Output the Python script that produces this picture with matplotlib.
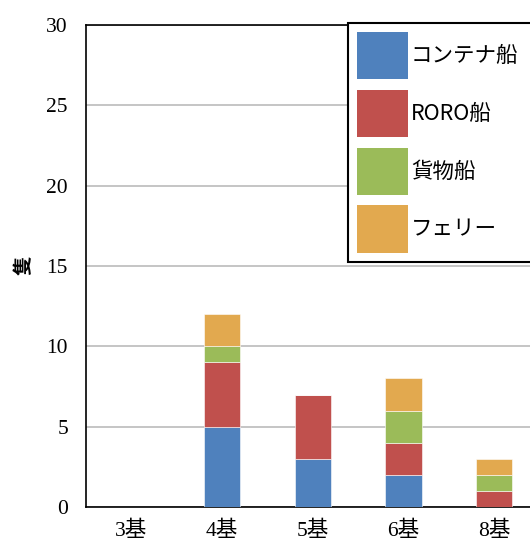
import matplotlib.pyplot as plt
import numpy as np

categories = ["3基", "4基", "5基", "6基", "8基"]
series_names = ["コンテナ船", "RORO船", "貨物船", "フェリー"]
container = [0, 5, 3, 2, 0]
roro = [0, 4, 4, 2, 1]
cargo = [0, 1, 0, 2, 1]
ferry = [0, 2, 0, 2, 1]
colors = ["#4f81bd", "#c0504d", "#9bbb59", "#e2a94f"]

tick_font = ["Liberation Serif", "Noto Sans CJK JP"]
plt.rcParams['font.family'] = ['Noto Sans CJK JP', 'DejaVu Sans']

fig = plt.figure(figsize=(5.3, 5.43), dpi=100)
ax = fig.add_axes([86 / 530, 36 / 543, 453.5 / 530, 482 / 543])

x = np.arange(len(categories))
bottom = np.zeros(len(categories))
for name, vals, c in zip(series_names, [container, roro, cargo, ferry], colors):
    ax.bar(x, vals, 0.4, bottom=bottom, color=c, label=name,
           edgecolor="white", linewidth=0.4, zorder=3)
    bottom += np.array(vals)

ax.set_xlim(-0.5, len(categories) - 0.5)
ax.set_ylim(0, 30)
ax.set_yticks(range(0, 31, 5))
ax.set_xticks(x)
ax.set_xticklabels(categories, family=tick_font, fontsize=15.5)
for lbl in ax.get_yticklabels():
    lbl.set_family(tick_font)
    lbl.set_fontsize(15.5)
ax.tick_params(axis='y', length=0, pad=13)
ax.tick_params(axis='x', length=0, pad=10)
ax.yaxis.grid(True, color="#c0c0c0", linewidth=1.3, zorder=0)

for s in ax.spines.values():
    s.set_color("black")
    s.set_linewidth(1.2)

fig.text(24 / 530, 1 - 265 / 543, "隻", rotation=90, fontsize=14,
         fontweight="bold", ha="center", va="center",
         family=['Noto Sans CJK JP'])

# legend box runs past the right edge, as in the reference
leg = fig.legend(loc="upper left",
                 bbox_to_anchor=(348 / 530, 1 - 263 / 543, 200 / 530, 240 / 543),
                 mode="expand",
                 fontsize=15.5, handlelength=2.35, handleheight=3.0,
                 labelspacing=0.49, handletextpad=0.15, borderpad=0.42,
                 fancybox=False, framealpha=1, borderaxespad=0)
leg.get_frame().set_edgecolor("black")
leg.get_frame().set_linewidth(1.5)
for p in leg.get_patches():
    p.set_edgecolor("none")

fig.savefig("out.png", dpi=100)
